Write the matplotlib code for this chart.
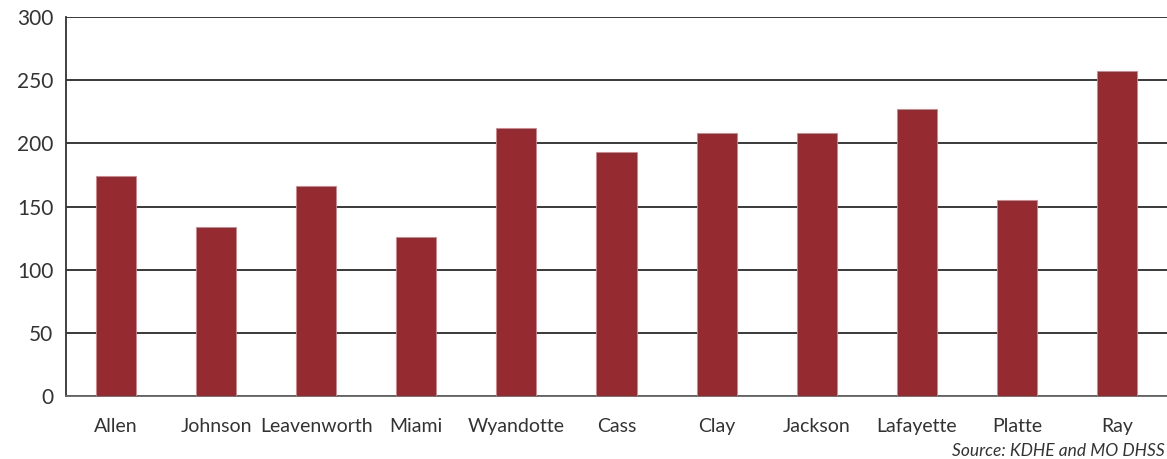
import matplotlib
matplotlib.use('Agg')
import matplotlib.pyplot as plt

counties = ["Allen", "Johnson", "Leavenworth", "Miami", "Wyandotte", "Cass",
            "Clay", "Jackson", "Lafayette", "Platte", "Ray"]
values = [174, 134, 166, 126, 212, 193, 208, 208, 227, 155, 257]
y_ticks = [0, 50, 100, 150, 200, 250, 300]

plt.rcParams['font.family'] = ['Lato', 'DejaVu Sans']

fig = plt.figure(figsize=(11.67, 4.59), dpi=100)
ax = fig.add_axes([66 / 1167, 1 - 396 / 459, 1 - 66 / 1167, (396 - 17) / 459])

x = range(len(counties))
ax.bar(x, values, width=0.4, color="#962a31", edgecolor="#c98a8f", linewidth=0.6, zorder=3)

ax.set_ylim(0, 300)
ax.set_xlim(-0.5, len(counties) - 0.5)
ax.set_yticks(y_ticks)
ax.set_xticks(list(x))
ax.set_xticklabels(counties, fontsize=14, color="#333333")
ax.tick_params(axis='y', labelsize=15, colors="#333333", length=0, pad=9)
ax.tick_params(axis='x', length=0, pad=16)

ax.yaxis.grid(True, color="#2a2a2a", linewidth=1.3, zorder=0)
for s in ["top", "right"]:
    ax.spines[s].set_visible(False)
ax.spines["left"].set_color("#333333")
ax.spines["left"].set_linewidth(1.3)
ax.spines["bottom"].set_color("#666666")
ax.spines["bottom"].set_linewidth(1.3)

fig.text(0.998, 1 - 456 / 459, "Source: KDHE and MO DHSS", ha="right", va="baseline",
         fontsize=12.5, style="italic", color="#333333")

fig.savefig("out.png", dpi=100)
